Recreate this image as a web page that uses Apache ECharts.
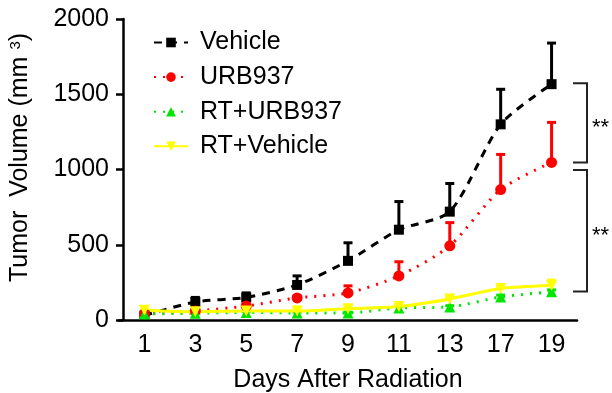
<!DOCTYPE html>
<html>
<head>
<meta charset="utf-8">
<script src="https://cdn.jsdelivr.net/npm/echarts@6/dist/echarts.min.js"></script>
<style>
  html, body { margin: 0; padding: 0; background: #fff; }
  #chart { width: 612px; height: 393px; }
</style>
</head>
<body>
<div id="chart"></div>
<script>
const days = ["1", "3", "5", "7", "9", "11", "13", "17", "19"];
const yTicks = [0, 500, 1000, 1500, 2000];

const vehicle = [30, 120, 150, 233, 393, 600, 720, 1300, 1567];
const vehicleErr = [40, 150, 180, 293, 513, 787, 907, 1533, 1840];
const urb = [40, 60, 93, 147, 180, 293, 493, 867, 1047];
const urbErr = [45, 70, 105, 160, 227, 387, 647, 1100, 1313];
const rtUrb = [40, 45, 50, 47, 47, 80, 87, 153, 187];
const rtUrbErr = [45, 50, 55, 52, 52, 90, 95, 165, 200];
const rtVeh = [65, 55, 60, 60, 75, 90, 140, 210, 230];
const rtVehErr = [70, 60, 65, 65, 90, 100, 150, 220, 265];

const font = "Liberation Sans, Arial, sans-serif";

const errSeries = (name, vals, tops, color) => ({
  type: "custom",
  name: name + " err",
  data: vals.map((v, i) => [i, v, tops[i]]),
  z: 3,
  renderItem: (params, api) => {
    const lo = api.coord([api.value(0), api.value(1)]);
    const hi = api.coord([api.value(0), api.value(2)]);
    return {
      type: "group",
      children: [
        { type: "line", shape: { x1: lo[0], y1: lo[1], x2: hi[0], y2: hi[1] }, style: { stroke: color, lineWidth: 3 } },
        { type: "line", shape: { x1: hi[0] - 4.5, y1: hi[1], x2: hi[0] + 4.5, y2: hi[1] }, style: { stroke: color, lineWidth: 3 } },
      ],
    };
  },
});

const lineSeries = (name, vals, color, type, symbol) => ({
  type: "line",
  name,
  data: vals,
  smooth: 0.25,
  symbol,
  symbolSize: symbol === "rect" ? 10 : 11,
  lineStyle: { color, type, width: 3 },
  itemStyle: { color },
  z: 4,
});

const chart = echarts.init(document.getElementById("chart"));
chart.setOption({
  animation: false,
  grid: { left: 119, right: 35, top: 19, bottom: 73, outerBoundsMode: "none" },
  legend: {
    left: 148,
    top: 25,
    orient: "vertical",
    itemWidth: 34,
    itemHeight: 12,
    itemGap: 9.6,
    textStyle: { fontFamily: font, fontSize: 25, lineHeight: 25, color: "#000", padding: [0, 0, 0, 7] },
    data: ["Vehicle", "URB937", "RT+URB937", "RT+Vehicle"],
  },
  xAxis: {
    type: "category",
    data: days,
    boundaryGap: true,
    name: "Days After Radiation",
    nameLocation: "middle",
    nameGap: 48,
    nameTextStyle: { fontFamily: font, fontSize: 25, color: "#000" },
    axisLine: { lineStyle: { color: "#000", width: 2.5 } },
    axisTick: { alignWithLabel: true, length: 7, lineStyle: { width: 2.5, color: "#000" } },
    axisLabel: { fontFamily: font, fontSize: 25, color: "#000", margin: 13 },
  },
  yAxis: {
    type: "value",
    min: yTicks[0],
    max: yTicks[yTicks.length - 1],
    interval: 500,
    offset: -4,
    name: "Tumor  Volume (mm {sup|3})",
    nameLocation: "middle",
    nameGap: 90,
    nameTextStyle: {
      fontFamily: font, fontSize: 25, color: "#000", padding: [0, 0, 0, 24],
      rich: { sup: { fontFamily: font, fontSize: 15, color: "#000", verticalAlign: "top", padding: [0, 0, 10, 0] } },
    },
    axisLine: { show: true, lineStyle: { color: "#000", width: 2.5 } },
    axisTick: { show: true, length: 7, lineStyle: { width: 2.5, color: "#000" } },
    axisLabel: { fontFamily: font, fontSize: 25, color: "#000", margin: 14, formatter: (v) => String(v) },
    splitLine: { show: false },
  },
  series: [
    errSeries("Vehicle", vehicle, vehicleErr, "#000"),
    errSeries("URB937", urb, urbErr, "#ff0000"),
    errSeries("RT+URB937", rtUrb, rtUrbErr, "#00e600"),
    errSeries("RT+Vehicle", rtVeh, rtVehErr, "#ffff00"),
    lineSeries("Vehicle", vehicle, "#000", [8, 7], "rect"),
    lineSeries("URB937", urb, "#ff0000", [2, 7], "circle"),
    lineSeries("RT+URB937", rtUrb, "#00e600", [2, 7], "triangle"),
    Object.assign(lineSeries("RT+Vehicle", rtVeh, "#ffff00", "solid", "triangle"), { symbolRotate: 180 }),
  ],
});

// significance brackets, placed from the data scale
const px = (i, v) => chart.convertToPixel({ seriesIndex: 4 }, [i, v]);
const bracket = (vTop, vBot) => {
  const t = px(8, vTop)[1] - 1, b = px(8, vBot)[1], x0 = 573, x1 = 587;
  return [
    { type: "polyline", shape: { points: [[x0, t], [x1, t], [x1, b], [x0, b]] }, style: { stroke: "#222", lineWidth: 2, fill: null } },
    { type: "text", x: 592, y: (t + b) / 2 + 5, style: { text: "**", font: "22px " + font, fill: "#000", verticalAlign: "middle" } },
  ];
};
chart.setOption({
  graphic: [...bracket(1567, 1047), ...bracket(990, 190)],
});
</script>
</body>
</html>
